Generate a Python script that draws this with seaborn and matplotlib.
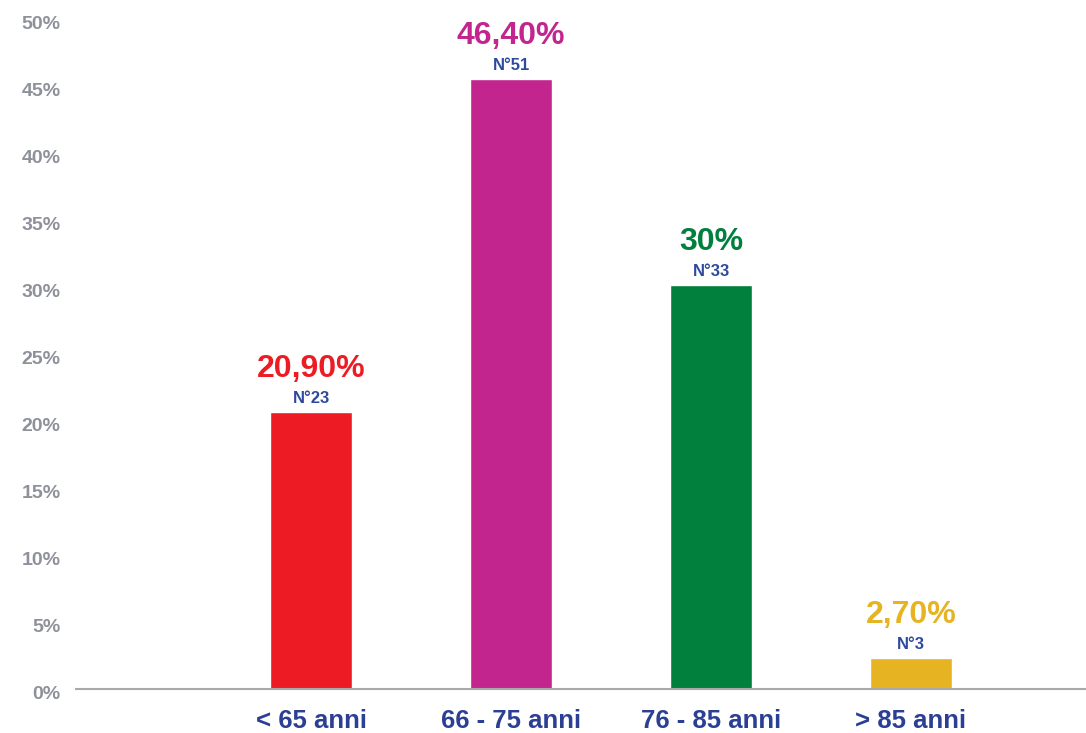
import matplotlib
matplotlib.use("Agg")
import matplotlib.pyplot as plt
import matplotlib.transforms as mtransforms
import seaborn as sns
import pandas as pd

categories = ["< 65 anni", "66 - 75 anni", "76 - 85 anni", "> 85 anni"]
bar_heights = [20.6, 45.5, 30.1, 2.3]
value_labels = ["20,90%", "46,40%", "30%", "2,70%"]
count_labels = ["N°23", "N°51", "N°33", "N°3"]
colors = ["#ED1C24", "#C2268E", "#007F3D", "#E6B422"]
yticks = [0, 5, 10, 15, 20, 25, 30, 35, 40, 45, 50]

sns.set_theme(style="white")
plt.rcParams['font.family'] = ['Liberation Sans', 'DejaVu Sans']

df = pd.DataFrame({"cat": categories, "val": bar_heights})
fig = plt.figure(figsize=(10.86, 7.33), dpi=100)
ax = fig.add_axes([76/1086, 44.5/733, 1 - 76/1086, 670/733])
sns.barplot(data=df, x="cat", y="val", hue="cat", palette=colors, legend=False,
            width=0.41, saturation=1, ax=ax)

ax.set_ylim(0, 50)
ax.set_xlim(-1.175, 3.875)
ax.set_yticks(yticks)
ax.set_yticklabels([f"{t}%" for t in yticks], color="#8E9199", fontsize=14, fontweight="bold")
ax.tick_params(axis="y", length=0, pad=11)
ax.tick_params(axis="x", length=0, pad=15)
shift = mtransforms.ScaledTranslation(0, -4/100, fig.dpi_scale_trans)
for lab in ax.get_yticklabels():
    lab.set_transform(lab.get_transform() + shift)
for lab in ax.get_xticklabels():
    lab.set_color("#2B3F94")
    lab.set_fontsize(18.5)
    lab.set_fontweight("bold")
ax.set_xlabel("")
ax.set_ylabel("")
for s in ["top", "right", "left"]:
    ax.spines[s].set_visible(False)
ax.spines["bottom"].set_color("#A7A9AC")
ax.spines["bottom"].set_linewidth(1.5)

for i, (v, vl, cl, c) in enumerate(zip(bar_heights, value_labels, count_labels, colors)):
    ax.annotate(cl, (i, v), xytext=(0, 6), textcoords="offset pixels", ha="center", va="bottom",
                fontsize=12, fontweight="bold", color="#2E4A9E", annotation_clip=False)
    ax.annotate(vl, (i, v), xytext=(0, 28), textcoords="offset pixels", ha="center", va="bottom",
                fontsize=23, fontweight="bold", color=c, annotation_clip=False)

fig.savefig("out.png", dpi=100)
